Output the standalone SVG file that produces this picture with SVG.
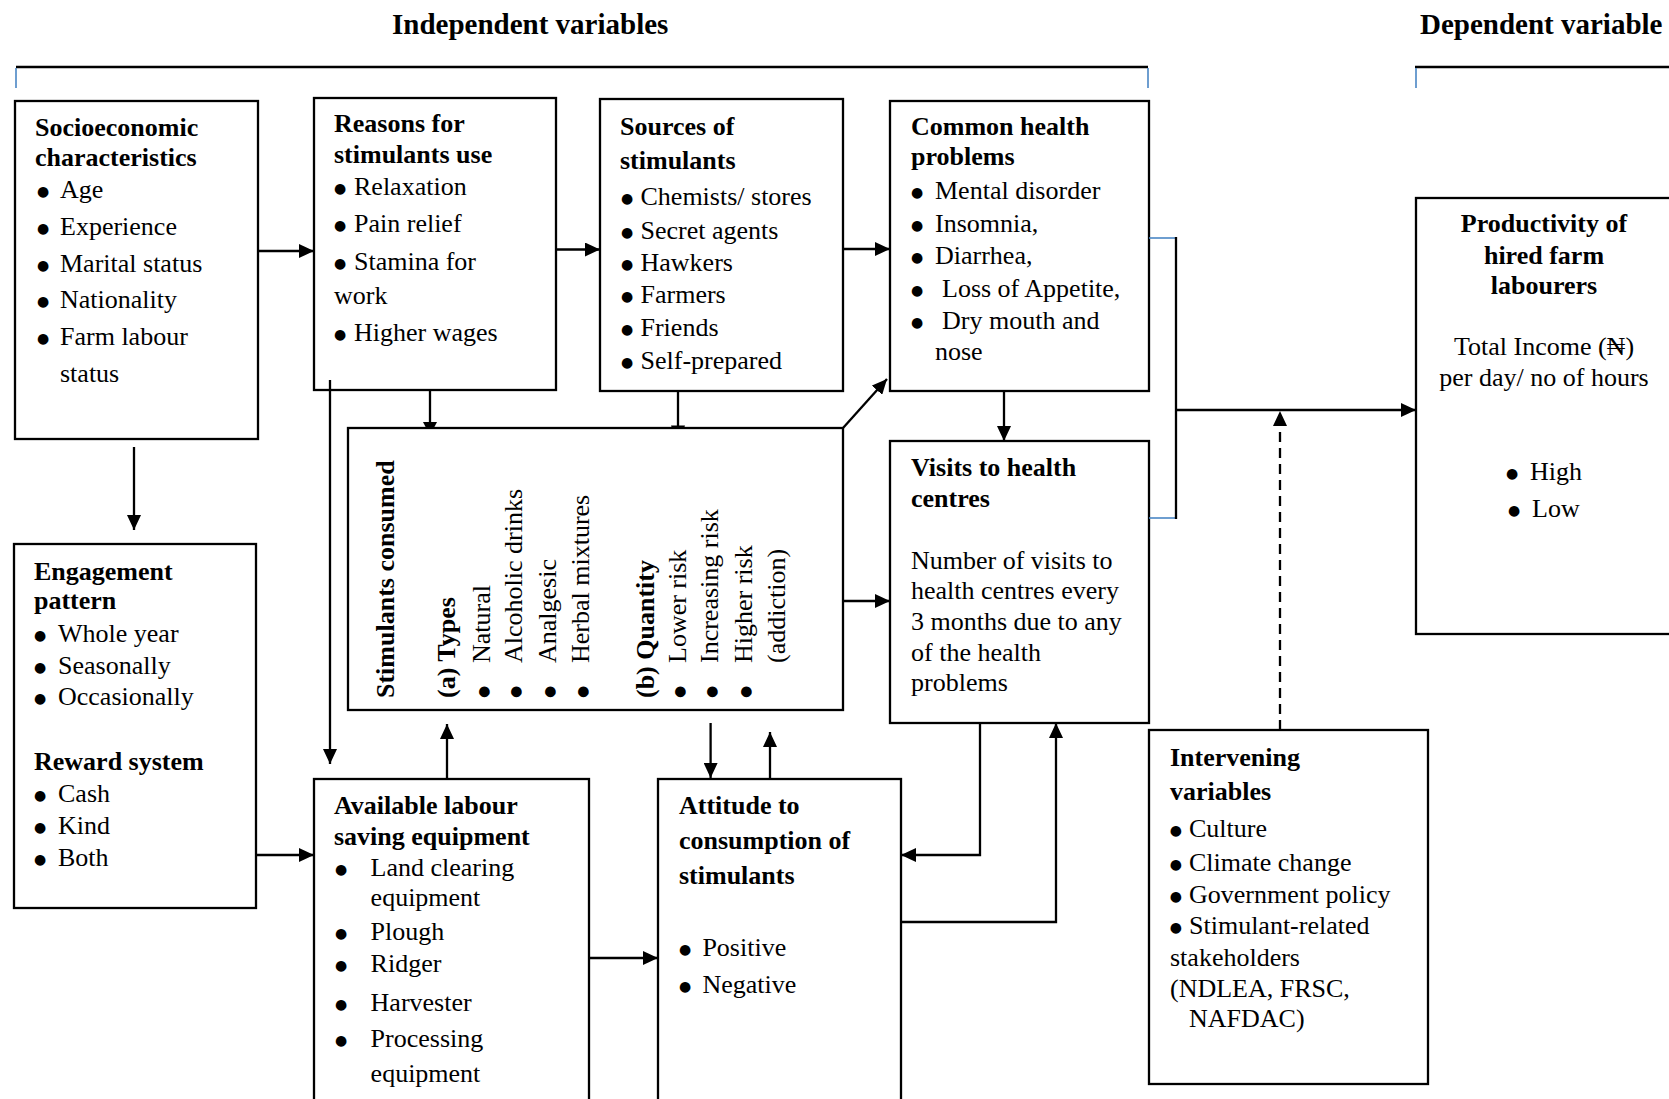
<svg xmlns="http://www.w3.org/2000/svg" width="1669" height="1099" viewBox="0 0 1669 1099">
<style>
.box{fill:#fff;stroke:#000;stroke-width:2.3}
.t{font-family:"Liberation Serif","Times New Roman",serif;font-size:26px;fill:#000}
.b{font-weight:bold}
.ttl{font-family:"Liberation Serif","Times New Roman",serif;font-size:29px;font-weight:bold;fill:#000}
.bu{font-family:"DejaVu Sans",sans-serif;font-size:14px;fill:#000}
.c{text-anchor:middle}
.ln{fill:none;stroke:#000;stroke-width:2.3}
.bl{fill:none;stroke:#4a86c5;stroke-width:1.6}
.ar{fill:none;stroke:#000;stroke-width:2.3;marker-end:url(#ah)}
.dash{stroke-dasharray:10,6}
.hd{fill:#000;stroke:none}
</style>
<defs>
<marker id="ah" viewBox="0 0 15 14" refX="15" refY="7" markerWidth="15" markerHeight="14" markerUnits="userSpaceOnUse" orient="auto">
<path d="M0,0 L15,7 L0,14 z" fill="#000"/>
</marker>
</defs>
<rect width="1669" height="1099" fill="#fff"/>

<g id="headers">
<text class="ttl" x="392" y="34">Independent variables</text>
<text class="ttl" x="1420" y="34">Dependent variable</text>
<line class="ln" x1="16" y1="67" x2="1148" y2="67" stroke-width="2.6"/>
<line class="bl" x1="16" y1="68" x2="16" y2="88"/>
<line class="bl" x1="1148" y1="68" x2="1148" y2="88"/>
<line class="ln" x1="1415" y1="67" x2="1669" y2="67" stroke-width="2.6"/>
<line class="bl" x1="1416" y1="68" x2="1416" y2="88"/>
</g>

<g id="socio">
<rect class="box" x="15" y="101" width="243" height="338"/>
<text class="t b" x="35" y="136">Socioeconomic</text>
<text class="t b" x="35" y="166">characteristics</text>
<text class="bu" x="37" y="195.5">●</text><text class="t" x="60" y="197.5">Age</text>
<text class="bu" x="37" y="233">●</text><text class="t" x="60" y="235">Experience</text>
<text class="bu" x="37" y="269.5">●</text><text class="t" x="60" y="271.5">Marital status</text>
<text class="bu" x="37" y="306">●</text><text class="t" x="60" y="308">Nationality</text>
<text class="bu" x="37" y="343">●</text><text class="t" x="60" y="345">Farm labour</text>
<text class="t" x="60" y="382">status</text>
</g>

<g id="reasons">
<rect class="box" x="314" y="98" width="242" height="292"/>
<text class="t b" x="334" y="131.5">Reasons for</text>
<text class="t b" x="334" y="163">stimulants use</text>
<text class="bu" x="334" y="192.5">●</text><text class="t" x="354" y="194.5">Relaxation</text>
<text class="bu" x="334" y="230">●</text><text class="t" x="354" y="232">Pain relief</text>
<text class="bu" x="334" y="268">●</text><text class="t" x="354" y="270">Stamina for</text>
<text class="t" x="334" y="304">work</text>
<text class="bu" x="334" y="339">●</text><text class="t" x="354" y="341">Higher wages</text>
</g>

<g id="sources">
<rect class="box" x="600" y="99" width="243" height="292"/>
<text class="t b" x="620" y="135">Sources of</text>
<text class="t b" x="620" y="169">stimulants</text>
<text class="bu" x="621" y="203">●</text><text class="t" x="640.5" y="205">Chemists/ stores</text>
<text class="bu" x="621" y="236.5">●</text><text class="t" x="640.5" y="238.5">Secret agents</text>
<text class="bu" x="621" y="268.5">●</text><text class="t" x="640.5" y="270.5">Hawkers</text>
<text class="bu" x="621" y="301">●</text><text class="t" x="640.5" y="303">Farmers</text>
<text class="bu" x="621" y="333.5">●</text><text class="t" x="640.5" y="335.5">Friends</text>
<text class="bu" x="621" y="366.5">●</text><text class="t" x="640.5" y="368.5">Self-prepared</text>
</g>

<g id="common">
<rect class="box" x="890" y="101" width="259" height="290"/>
<text class="t b" x="911" y="135">Common health</text>
<text class="t b" x="911" y="165">problems</text>
<text class="bu" x="911" y="196.5">●</text><text class="t" x="935" y="198.5">Mental disorder</text>
<text class="bu" x="911" y="230">●</text><text class="t" x="935" y="232">Insomnia,</text>
<text class="bu" x="911" y="262">●</text><text class="t" x="935" y="264">Diarrhea,</text>
<text class="bu" x="911" y="295">●</text><text class="t" x="942" y="297">Loss of Appetite,</text>
<text class="bu" x="911" y="326.5">●</text><text class="t" x="942" y="328.5">Dry mouth and</text>
<text class="t" x="935" y="360">nose</text>
</g>

<g id="productivity">
<rect class="box" x="1416" y="198" width="300" height="436"/>
<text class="t b c" x="1544" y="231.5">Productivity of</text>
<text class="t b c" x="1544" y="263.5">hired farm</text>
<text class="t b c" x="1544" y="294">labourers</text>
<text class="t c" x="1544" y="355">Total Income (₦)</text>
<text class="t c" x="1544" y="385.5">per day/ no of hours</text>
<text class="bu" x="1506" y="478">●</text><text class="t" x="1530" y="480">High</text>
<text class="bu" x="1508" y="514.5">●</text><text class="t" x="1532" y="516.5">Low</text>
</g>

<g id="stimulants">
<rect class="box" x="348" y="428" width="495" height="282"/>
<text class="t b" transform="translate(394,698) rotate(-90)">Stimulants consumed</text>
<text class="t b" transform="translate(455,698) rotate(-90)">(a) Types</text>
<text class="bu" transform="translate(490,698) rotate(-90)" x="0" y="-2">●</text><text class="t" transform="translate(490,698) rotate(-90)" x="35">Natural</text>
<text class="bu" transform="translate(522,698) rotate(-90)" x="0" y="-2">●</text><text class="t" transform="translate(522,698) rotate(-90)" x="35">Alcoholic drinks</text>
<text class="bu" transform="translate(556,698) rotate(-90)" x="0" y="-2">●</text><text class="t" transform="translate(556,698) rotate(-90)" x="35">Analgesic</text>
<text class="bu" transform="translate(589,698) rotate(-90)" x="0" y="-2">●</text><text class="t" transform="translate(589,698) rotate(-90)" x="35">Herbal mixtures</text>
<text class="t b" transform="translate(654,698) rotate(-90)">(b) Quantity</text>
<text class="bu" transform="translate(686,698) rotate(-90)" x="0" y="-2">●</text><text class="t" transform="translate(686,698) rotate(-90)" x="35">Lower risk</text>
<text class="bu" transform="translate(718,698) rotate(-90)" x="0" y="-2">●</text><text class="t" transform="translate(718,698) rotate(-90)" x="35">Increasing risk</text>
<text class="bu" transform="translate(752,698) rotate(-90)" x="0" y="-2">●</text><text class="t" transform="translate(752,698) rotate(-90)" x="35">Higher risk</text>
<text class="t" transform="translate(785,698) rotate(-90)" x="35">(addiction)</text>
</g>

<g id="visits">
<rect class="box" x="890" y="441" width="259" height="282"/>
<text class="t b" x="911" y="476">Visits to health</text>
<text class="t b" x="911" y="507">centres</text>
<text class="t" x="911" y="568.5">Number of visits to</text>
<text class="t" x="911" y="599">health centres every</text>
<text class="t" x="911" y="630">3 months due to any</text>
<text class="t" x="911" y="661">of the health</text>
<text class="t" x="911" y="691">problems</text>
</g>

<g id="engagement">
<rect class="box" x="14" y="544" width="242" height="364"/>
<text class="t b" x="34" y="579.5">Engagement</text>
<text class="t b" x="34" y="608.5">pattern</text>
<text class="bu" x="34" y="639.5">●</text><text class="t" x="58" y="641.5">Whole year</text>
<text class="bu" x="34" y="672">●</text><text class="t" x="58" y="674">Seasonally</text>
<text class="bu" x="34" y="703">●</text><text class="t" x="58" y="705">Occasionally</text>
<text class="t b" x="34" y="769.5">Reward system</text>
<text class="bu" x="34" y="800">●</text><text class="t" x="58" y="802">Cash</text>
<text class="bu" x="34" y="832">●</text><text class="t" x="58" y="834">Kind</text>
<text class="bu" x="34" y="864">●</text><text class="t" x="58" y="866">Both</text>
</g>

<g id="available">
<rect class="box" x="314" y="779" width="275" height="330"/>
<text class="t b" x="334" y="813.5">Available labour</text>
<text class="t b" x="334" y="844.5">saving equipment</text>
<text class="bu" x="335" y="874">●</text><text class="t" x="370.6" y="876">Land clearing</text>
<text class="t" x="370.6" y="906">equipment</text>
<text class="bu" x="335" y="937.5">●</text><text class="t" x="370.6" y="939.5">Plough</text>
<text class="bu" x="335" y="970">●</text><text class="t" x="370.6" y="972">Ridger</text>
<text class="bu" x="335" y="1009">●</text><text class="t" x="370.6" y="1011">Harvester</text>
<text class="bu" x="335" y="1045">●</text><text class="t" x="370.6" y="1047">Processing</text>
<text class="t" x="370.6" y="1082">equipment</text>
</g>

<g id="attitude">
<rect class="box" x="658" y="779" width="243" height="330"/>
<text class="t b" x="679" y="813.5">Attitude to</text>
<text class="t b" x="679" y="849">consumption of</text>
<text class="t b" x="679" y="883.5">stimulants</text>
<text class="bu" x="679" y="954">●</text><text class="t" x="702.4" y="956">Positive</text>
<text class="bu" x="679" y="991">●</text><text class="t" x="702.4" y="993">Negative</text>
</g>

<g id="intervening">
<rect class="box" x="1149" y="730" width="279" height="354"/>
<text class="t b" x="1170" y="766">Intervening</text>
<text class="t b" x="1170" y="800">variables</text>
<text class="bu" x="1169.7" y="835">●</text><text class="t" x="1189" y="837">Culture</text>
<text class="bu" x="1169.7" y="868.5">●</text><text class="t" x="1189" y="870.5">Climate change</text>
<text class="bu" x="1169.7" y="901">●</text><text class="t" x="1189" y="903">Government policy</text>
<text class="bu" x="1169.7" y="932">●</text><text class="t" x="1189" y="934">Stimulant-related</text>
<text class="t" x="1170" y="965.5">stakeholders</text>
<text class="t" x="1170" y="996.5">(NDLEA, FRSC,</text>
<text class="t" x="1189" y="1026.5">NAFDAC)</text>
</g>

<g id="connectors">
<path class="ar" d="M258,251 H314"/>
<path class="ar" d="M556,249.5 H600"/>
<path class="ar" d="M843,249 H890"/>
<path class="ln" d="M430,390 V422"/>
<polygon class="hd" points="423,422 437,422 433.6,428.5 426.4,428.5"/>
<path class="ln" d="M678,391 V426"/>
<polygon class="hd" points="671,425.5 685,425.5 684,428.5 672,428.5"/>
<path class="ar" d="M134,447 V530"/>
<path class="ar" d="M330,380 V764"/>
<path class="ar" d="M256,855 H314"/>
<path class="ar" d="M447,779 V724"/>
<path class="ar" d="M710.6,723 V778"/>
<path class="ar" d="M770,779 V732"/>
<path class="ar" d="M589,958 H658"/>
<path class="ar" d="M843,428 L887,379"/>
<path class="ar" d="M843,601 H890"/>
<path class="ar" d="M1004,391 V441"/>
<path class="ar" d="M980,723 V855 H901"/>
<path class="ar" d="M901,922 H1056 V723"/>
<path class="bl" d="M1149,238 H1176"/>
<path class="bl" d="M1149,518 H1176"/>
<path class="ln" d="M1176,237 V519"/>
<path class="ar" d="M1176,410 H1416"/>
<path class="ar dash" d="M1280,730 V411"/>
</g>
</svg>
